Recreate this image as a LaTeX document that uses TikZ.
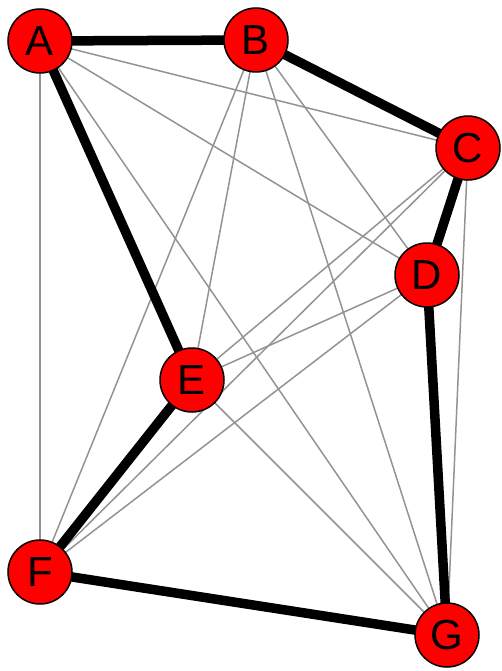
\documentclass[tikz,border=0pt]{standalone}
\usepackage{fontspec}
\setmainfont{Liberation Sans}
\usetikzlibrary{positioning}

\tikzset{
    vertex/.style={circle,draw=black,line width=1.5pt,fill=red,minimum size=64pt,inner sep=0pt,font=\fontsize{42}{42}\selectfont},
    thinedge/.style={draw=gray!85,line width=1.5pt},
    thickedge/.style={draw=black,line width=9.5pt}
}

\begin{document}
\begin{tikzpicture}[x=1pt,y=-1pt]
    \useasboundingbox (0,0) rectangle (502,671);
    \coordinate (pA) at (40,41);
    \coordinate (pB) at (256,40);
    \coordinate (pC) at (468,148);
    \coordinate (pD) at (427,275);
    \coordinate (pE) at (192,380);
    \coordinate (pF) at (40,572);
    \coordinate (pG) at (447,635);
    % thin edges
    \foreach \u/\v in {A/C,A/D,A/F,A/G,B/D,B/E,B/F,B/G,C/E,C/F,C/G,D/E,D/F,E/G}
        \draw[thinedge] (p\u) -- (p\v);
    % thick cycle
    \foreach \u/\v in {A/B,B/C,C/D,D/G,G/F,F/E,E/A}
        \draw[thickedge] (p\u) -- (p\v);
    \foreach \n in {A,B,C,D,E,F,G}
        \node[vertex] (\n) at (p\n) {\n};
\end{tikzpicture}
\end{document}
